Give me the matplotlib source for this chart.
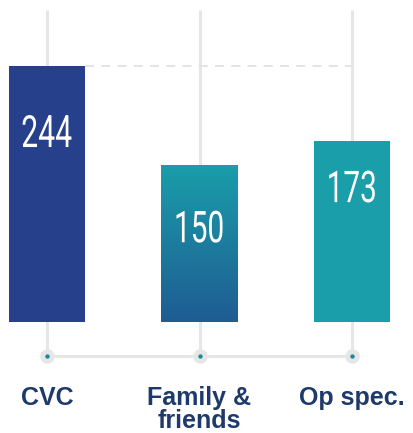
import matplotlib
matplotlib.use("Agg")
import matplotlib.pyplot as plt
import numpy as np
from matplotlib.colors import LinearSegmentedColormap
from matplotlib.font_manager import FontProperties
from matplotlib.textpath import TextPath
from matplotlib.patches import PathPatch
from matplotlib.transforms import Affine2D, ScaledTranslation

# data
categories = ["CVC", "Family &\nfriends", "Op spec."]
values = [244, 150, 173]

# style
navy = "#26408c"
teal = "#1a9eaa"
grad_bottom = "#1f5c92"
label_col = "#1e3a6a"
grid_col = "#e6e6e6"
label_drop = [65, 62, 46]  # px from bar top to the centre of the number

fig = plt.figure(figsize=(4.14, 4.33), dpi=100)
ax = fig.add_axes([0, 0, 1, 1])
ppu = 1.049  # pixels per value unit


def py(p):
    # pixel row (from top) -> data y
    return (322 - p) / ppu


xlim = (-47 / 152.5, 2 + 62 / 152.5)
ylim = (py(433), py(0))
ax.set_xlim(*xlim)
ax.set_ylim(*ylim)
ax.axis("off")

x = np.arange(len(values))
dot_y = py(356)

# vertical guide lines and the baseline with dots
for xi in x:
    ax.plot([xi, xi], [dot_y, py(10)], color=grid_col, lw=2.2, zorder=1, solid_capstyle="butt")
ax.plot([x[0], x[-1]], [dot_y, dot_y], color=grid_col, lw=2.2, zorder=1)
ax.scatter(x, [dot_y] * len(x), s=110, color=grid_col, zorder=2, linewidths=0)
ax.scatter(x, [dot_y] * len(x), s=10, color="#1a8aa0", zorder=3, linewidths=0)

# dashed line at the top of the tallest bar
ax.plot([x[0] + 0.25, x[-1]], [max(values)] * 2, color="#e2e2e2", lw=1.3,
        dashes=(5, 4), zorder=1)

bars = ax.bar(x, values, width=0.5, color=[navy, teal, teal], zorder=4)

# gradient for the middle bar
cmap = LinearSegmentedColormap.from_list("g", [grad_bottom, teal])
b = bars[1]
grad = np.linspace(0, 1, 256).reshape(-1, 1)
im = ax.imshow(grad, cmap=cmap, aspect="auto", origin="lower",
               extent=[b.get_x(), b.get_x() + b.get_width(), 0, b.get_height()], zorder=5)
im.set_clip_path(b)
ax.set_xlim(*xlim)
ax.set_ylim(*ylim)

# condensed numbers: squeeze a text path horizontally
numfont = FontProperties(family="Roboto", weight="normal")
for xi, v, d in zip(x, values, label_drop):
    tp = TextPath((0, 0), str(v), size=100, prop=numfont)
    ext = tp.get_extents()
    k = 32 / ext.height
    tr = (Affine2D().translate(-(ext.x0 + ext.x1) / 2, -(ext.y0 + ext.y1) / 2)
          .scale(k * 0.68, k)
          + ScaledTranslation(xi, v - d / ppu, ax.transData))
    ax.add_patch(PathPatch(tp, transform=tr, color="white", lw=0, zorder=6))

# category labels, one line at a time
for xi, c in zip(x, categories):
    for i, line in enumerate(c.split("\n")):
        ax.text(xi, py(405 + 23 * i), line, ha="center", va="baseline", color=label_col,
                fontsize=18, fontweight="bold", family=["Liberation Sans", "DejaVu Sans"])

fig.savefig("out.png", dpi=100)
